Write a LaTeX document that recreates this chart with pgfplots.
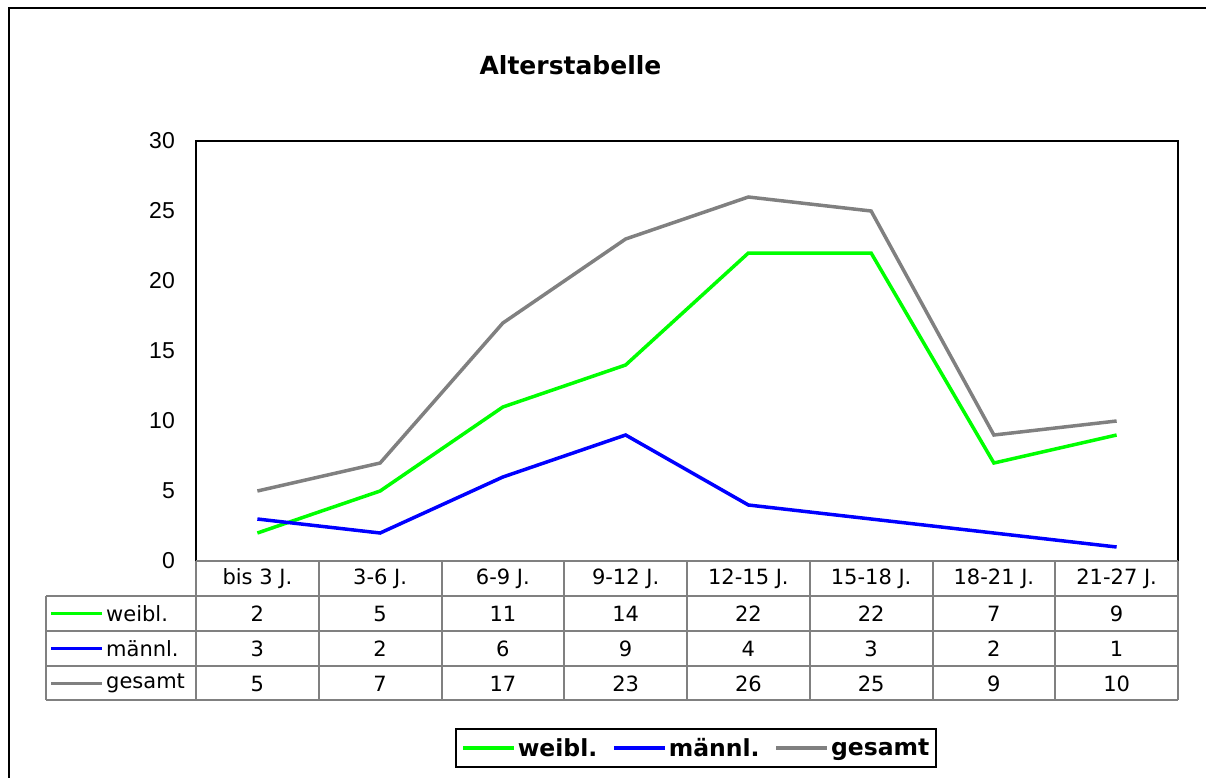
\documentclass[border=0pt]{standalone}
\usepackage{pgfplots}
\pgfplotsset{compat=1.18}
\usepackage{pgfplotstable}
\usepackage{fontspec}
\setmainfont{DejaVu Sans}
\newfontfamily\arialfont{Liberation Sans}

\definecolor{cweib}{HTML}{00FF00}
\definecolor{cmaen}{HTML}{0000FF}
\definecolor{cges}{HTML}{808080}

% x = column centre (categories at 0.5, 1.5, ...)
\pgfplotstableread{
x   weibl maennl gesamt
0.5 2  3 5
1.5 5  2 7
2.5 11 6 17
3.5 14 9 23
4.5 22 4 26
5.5 22 3 25
6.5 7  2 9
7.5 9  1 10
}\alter

\begin{document}
\begin{tikzpicture}[x=1pt,y=-1pt]
\useasboundingbox (0,0) rectangle (1206,778);
\draw[line width=2pt] (9,779) -- (9,8) -- (1207,8);
\node[font=\fontsize{25}{30}\selectfont\bfseries] at (570.5,65) {Alterstabelle};

\begin{axis}[
  at={(196pt,-561pt)}, anchor=south west,
  scale only axis, width=982pt, height=420pt,
  xmin=0, xmax=8, ymin=0, ymax=30,
  xtick=\empty, ytick={0,5,...,30},
  major tick length=0pt,
  axis line style={black, line width=1.5pt},
  /pgf/number format/assume math mode=true,
  yticklabel style={font=\arialfont\fontsize{23}{26}\selectfont,
    inner sep=0pt, anchor=east, xshift=-21pt},
  legend columns=3,
  legend style={at={(0.5095,-0.4454)}, anchor=center,
    draw=black, line width=2pt, inner xsep=5pt, inner ysep=7pt,
    font=\fontsize{23.5}{27}\selectfont\bfseries,
    /tikz/every even column/.append style={column sep=13pt},
    cells={anchor=west}},
  legend image code/.code={\draw[#1, line width=3.5pt] (0pt,0pt) -- (51pt,0pt);},
]
\addplot[cweib, line width=3.5pt] table[x=x, y=weibl] {\alter};
\addlegendentry{weibl.}
\addplot[cmaen, line width=3.5pt] table[x=x, y=maennl] {\alter};
\addlegendentry{männl.}
\addplot[cges, line width=3.5pt] table[x=x, y=gesamt] {\alter};
\addlegendentry{gesamt\hspace{11pt}}
\end{axis}

% data table below the plot
\begin{scope}[cges, line width=2pt]
  \draw (196,561) -- (1178,561);
  \foreach \yy in {596,631,666,700} \draw (46,\yy) -- (1178,\yy);
  \draw (46,596) -- (46,700);
  \foreach \i in {0,...,8} \draw ({196+122.75*\i},561) -- ({196+122.75*\i},700);
\end{scope}

\begin{scope}[font=\fontsize{21}{25}\selectfont]
  \foreach \c [count=\i from 0] in {bis 3 J.,3-6 J.,6-9 J.,9-12 J.,12-15 J.,15-18 J.,18-21 J.,21-27 J.}
    \node at ({196+122.75*(\i+0.5)},578.5) {\c};
  \foreach \col/\yy in {weibl/613.5,maennl/648.5,gesamt/683.5}
    \foreach \i in {0,...,7} {
      \pgfplotstablegetelem{\i}{\col}\of\alter
      \node at ({196+122.75*(\i+0.5)},\yy) {\pgfplotsretval};
    }
  \foreach \cc/\nm/\yy in {cweib/weibl./613.5,cmaen/männl./648.5,cges/gesamt/683.5} {
    \draw[\cc, line width=3.5pt] (51,\yy) -- (102,\yy);
    \node[anchor=west, inner sep=0pt] at (106,\yy) {\nm};
  }
\end{scope}
\end{tikzpicture}
\end{document}
